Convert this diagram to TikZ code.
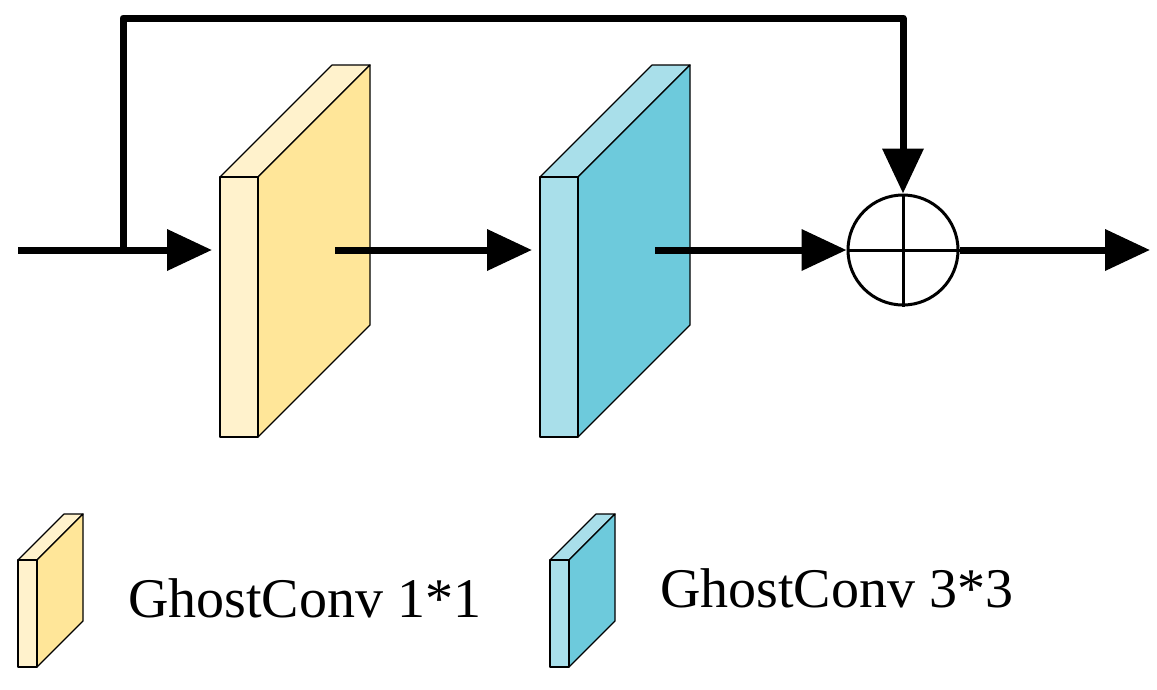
\documentclass[tikz,border=0pt]{standalone}
\usepackage{fontspec}
\setmainfont{Liberation Serif}
\usetikzlibrary{arrows.meta}
\definecolor{yfront}{HTML}{FFF2CC}
\definecolor{yside}{HTML}{FFE699}
\definecolor{bfront}{HTML}{A9DFEA}
\definecolor{bside}{HTML}{6DCADC}
\tikzset{
  flow/.style={line width=7pt,-{Triangle[length=45pt,width=40pt]}},
  face/.style={draw=black,line width=1.2pt,line join=round},
  lbl/.style={font=\fontsize{56}{66}\selectfont,anchor=west,inner sep=0pt}
}
\newcommand{\blockdraw}[7]{% x y w h d front side
  \filldraw[fill=#6,face] (#1,#2) -- (#1+#3,#2) -- (#1+#3+#5,#2-#5) -- (#1+#5,#2-#5) -- cycle;
  \filldraw[fill=#7,face] (#1+#3,#2) -- (#1+#3+#5,#2-#5) -- (#1+#3+#5,#2-#5+#4) -- (#1+#3,#2+#4) -- cycle;
  \filldraw[fill=#6,face] (#1,#2) rectangle (#1+#3,#2+#4);
}
\begin{document}
\begin{tikzpicture}[x=1pt,y=-1pt]
\useasboundingbox (0,0) rectangle (1157,689);
\blockdraw{220}{177}{38}{260}{112}{yfront}{yside}
\blockdraw{540}{177}{38}{260}{112}{bfront}{bside}
\blockdraw{18}{560}{19}{107}{46}{yfront}{yside}
\blockdraw{550}{560}{19}{107}{46}{bfront}{bside}
\coordinate (in) at (18,250);
\coordinate (b1in) at (212,250);
\coordinate (b1out) at (335,250);
\coordinate (b2in) at (532,250);
\coordinate (b2out) at (655,250);
\coordinate (out) at (1150,250);
\coordinate (split) at (123,250);
\node[circle,draw,line width=3pt,minimum size=110pt,inner sep=0pt] (sum) at (903,250) {};
\draw[line width=3pt] (sum.north) -- (sum.south) (sum.west) -- (sum.east);
\draw[flow] (in) -- (b1in);
\draw[flow] (b1out) -- (b2in);
\draw[flow] (b2out) -- (sum.west);
\draw[flow] (sum.east) -- (out);
\draw[flow,line join=round] (split) -- (123,18) -- (903,18) -- (sum.north);
\node[lbl] (t1) at (128,598) {GhostConv 1*1};
\node[lbl] (t2) at (660,588) {GhostConv 3*3};
\end{tikzpicture}
\end{document}
